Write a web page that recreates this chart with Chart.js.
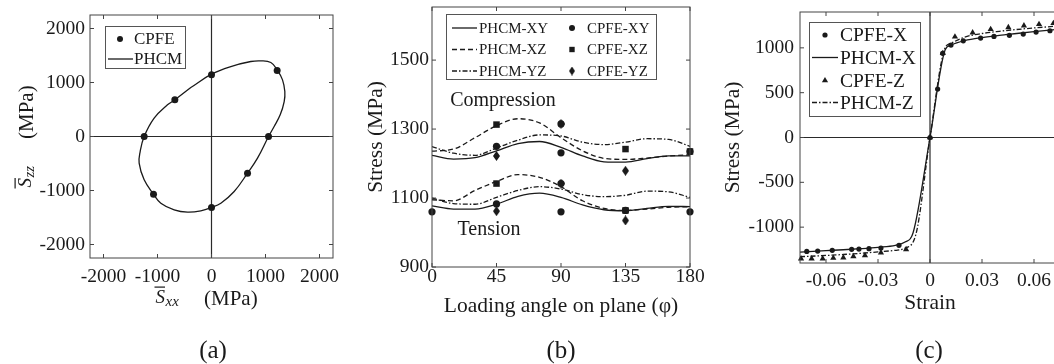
<!DOCTYPE html>
<html><head><meta charset="utf-8">
<script src="https://cdn.jsdelivr.net/npm/chart.js@4/dist/chart.umd.min.js"></script>
<style>
html,body{margin:0;padding:0;background:#fff;overflow:hidden;}
#wrap{position:relative;width:1054px;height:364px;overflow:hidden;background:#fff;}
.pc{position:absolute;top:0;}
.lab{position:absolute;font-family:"Liberation Serif","Times New Roman",serif;font-size:25px;line-height:1;color:#1a1a1a;transform:translateX(-50%);white-space:nowrap;}
</style></head><body>
<div id="wrap">
<canvas id="ca" class="pc" style="left:0" width="350" height="364"></canvas>
<canvas id="cb" class="pc" style="left:350px" width="380" height="364"></canvas>
<canvas id="cc" class="pc" style="left:700px" width="380" height="364"></canvas>
<div class="lab" style="left:213px;top:337px">(a)</div>
<div class="lab" style="left:561px;top:337px">(b)</div>
<div class="lab" style="left:929px;top:337px">(c)</div>
</div>
<script>
// ================= DATA =================
// (a) yield locus
const aTicks = [-2000, -1000, 0, 1000, 2000];
const aCpfeSxx = [0, 1216, 1056, 667, 0, -1074, -1247, -679];
const aCpfeSzz = [1142, 1222, 0, -679, -1315, -1068, 0, 679];
const aPhcmSxx = [-383,0,358,728,914,1099,1216,1315,1358,1346,1272,1160,1056,852,667,420,173,0,-198,-444,-691,-938,-1074,-1247,-1340,-1321,-1247,-1062,-815,-679,-383];
const aPhcmSzz = [907,1154,1296,1389,1401,1370,1235,1049,833,648,401,185,0,-401,-679,-1019,-1235,-1315,-1377,-1401,-1358,-1235,-1068,-802,-494,-278,0,340,586,679,907];
const aLegend = ['CPFE', 'PHCM'];

// (b) stress vs loading angle
const bXTicks = [0, 45, 90, 135, 180];
const bYTicks = [900, 1100, 1300, 1500];
const bAngles = [0, 15, 30, 45, 60, 75, 90, 105, 120, 135, 150, 165, 180];
const bPhcmXYComp = [1224,1213,1217,1237,1258,1264,1247,1222,1205,1204,1214,1222,1222];
const bPhcmXZComp = [1236,1242,1275,1310,1330,1318,1275,1237,1215,1212,1216,1222,1225];
const bPhcmYZComp = [1249,1230,1224,1245,1268,1283,1280,1262,1255,1262,1272,1270,1250];
const bPhcmXYTens = [1077,1068,1068,1082,1105,1114,1102,1080,1066,1063,1070,1076,1075];
const bPhcmXZTens = [1095,1092,1122,1148,1168,1160,1133,1092,1070,1064,1068,1073,1075];
const bPhcmYZTens = [1100,1084,1082,1102,1122,1133,1126,1110,1104,1108,1120,1118,1102];
const bCpfeXYAngle = [0, 45, 45, 90, 90, 90, 90, 135, 180, 180];
const bCpfeXYStress = [1060, 1250, 1083, 1315, 1231, 1142, 1060, 1064, 1235, 1060];
const bCpfeXZAngle = [45, 45, 135, 135, 180];
const bCpfeXZStress = [1313, 1142, 1242, 1064, 1235];
const bCpfeYZAngle = [45, 45, 90, 90, 135, 135];
const bCpfeYZStress = [1222, 1062, 1315, 1142, 1179, 1035];
const bLegendLines = ['PHCM-XY', 'PHCM-XZ', 'PHCM-YZ'];
const bLegendPoints = ['CPFE-XY', 'CPFE-XZ', 'CPFE-YZ'];
const bNotes = ['Compression', 'Tension'];

// (c) stress-strain
const cXTicks = [-0.06, -0.03, 0, 0.03, 0.06];
const cYTicks = [-1000, -500, 0, 500, 1000];
const cCpfeXStrain = [-0.0711,-0.0648,-0.0564,-0.0452,-0.041,-0.0352,-0.0283,-0.0179,0,0.0044,0.0073,0.0121,0.0192,0.0292,0.0369,0.0458,0.0538,0.0612,0.0692];
const cCpfeXStress = [-1271,-1267,-1259,-1248,-1245,-1240,-1233,-1203,0,540,939,1031,1079,1109,1128,1140,1154,1176,1191];
const cCpfeZStrain = [-0.0744,-0.0683,-0.0619,-0.0558,-0.050,-0.0442,-0.0375,-0.0283,-0.0138,0,0.0074,0.0144,0.0246,0.035,0.0452,0.0542,0.0629,0.0712];
const cCpfeZStress = [-1352,-1352,-1352,-1345,-1341,-1326,-1315,-1285,-1248,0,940,1124,1169,1207,1229,1247,1263,1274];
const cPhcmXStrain = [-0.075,-0.06,-0.05,-0.04,-0.03,-0.02,-0.0144,-0.0098,0,0.0087,0.012,0.02,0.03,0.04,0.05,0.06,0.075];
const cPhcmXStress = [-1278,-1262,-1252,-1240,-1225,-1203,-1166,-1066,0,975,1030,1080,1115,1140,1160,1180,1210];
const cPhcmZStrain = [-0.075,-0.06,-0.05,-0.04,-0.03,-0.02,-0.0145,-0.0083,0,0.0085,0.012,0.02,0.03,0.04,0.05,0.06,0.075];
const cPhcmZStress = [-1330,-1316,-1305,-1292,-1276,-1258,-1235,-1092,0,990,1050,1120,1160,1185,1205,1222,1245];
const cLegend = ['CPFE-X', 'PHCM-X', 'CPFE-Z', 'PHCM-Z'];

// ================= HELPERS =================
const C = '#1a1a1a';
const FAM = '"Liberation Serif", "Times New Roman", serif';
const pts = (xs, ys) => xs.map((x, i) => ({x: x, y: ys[i]}));
const DASH = [5, 3];
const DASHDOT = [5, 2, 1.5, 2];

function makeDiamond(w, h) {
  const c = document.createElement('canvas'); c.width = w; c.height = h;
  const g = c.getContext('2d'); g.fillStyle = C;
  g.beginPath(); g.moveTo(w/2, 0); g.lineTo(w, h/2); g.lineTo(w/2, h); g.lineTo(0, h/2); g.closePath(); g.fill();
  return c;
}
const diamond = makeDiamond(7, 10);

function axis(min, max, tickVals, o) {
  return {
    type: 'linear', min: min, max: max,
    grid: {display: false, drawTicks: false}, border: {display: false},
    afterBuildTicks: s => { s.ticks = tickVals.map(v => ({value: v})); },
    afterFit: s => {
      if (o.w !== undefined) { s.width = o.w; s.paddingTop = 0; s.paddingBottom = 0; }
      if (o.h !== undefined) { s.height = o.h; s.paddingLeft = 0; s.paddingRight = 0; }
    },
    ticks: {font: {family: FAM, size: 19.5, lineHeight: 1}, color: C, padding: o.pad,
            autoSkip: false, maxRotation: 0, minRotation: 0,
            callback: v => o.fmt ? o.fmt(v) : String(v)},
    title: o.title ? {display: true, text: o.title, color: C,
             font: {family: FAM, size: 21.5, lineHeight: 1}, padding: o.tpad} : {display: false}
  };
}

function frame(key, zero, after) {
  return {
    id: 'frame' + key,
    beforeDatasetsDraw(chart) {
      if (!zero) return;
      const {ctx, chartArea: a, scales: {x, y}} = chart;
      ctx.save(); ctx.strokeStyle = '#2a2a2a'; ctx.lineWidth = 1.2;
      const px = x.getPixelForValue(0), py = y.getPixelForValue(0);
      ctx.beginPath(); ctx.moveTo(px, a.top); ctx.lineTo(px, a.bottom);
      ctx.moveTo(a.left, py); ctx.lineTo(a.right, py); ctx.stroke(); ctx.restore();
    },
    afterDatasetsDraw(chart) {
      const {ctx, chartArea: a, scales: {x, y}} = chart;
      ctx.save(); ctx.strokeStyle = '#444'; ctx.lineWidth = 1;
      ctx.strokeRect(a.left, a.top, a.right - a.left, a.bottom - a.top);
      const L = 4; ctx.beginPath();
      x.ticks.forEach(t => { const p = x.getPixelForValue(t.value);
        ctx.moveTo(p, a.bottom); ctx.lineTo(p, a.bottom - L); ctx.moveTo(p, a.top); ctx.lineTo(p, a.top + L); });
      y.ticks.forEach(t => { const p = y.getPixelForValue(t.value);
        ctx.moveTo(a.left, p); ctx.lineTo(a.left + L, p); ctx.moveTo(a.right, p); ctx.lineTo(a.right - L, p); });
      ctx.stroke(); ctx.restore();
      if (after) after(chart);
    }
  };
}

function legendBox(ctx, bx, by, bw, bh, font, rows) {
  ctx.save();
  ctx.fillStyle = '#fff'; ctx.fillRect(bx, by, bw, bh);
  ctx.strokeStyle = '#555'; ctx.lineWidth = 1; ctx.strokeRect(bx + 0.5, by + 0.5, bw, bh);
  rows.forEach(r => {
    if (r.line) {
      ctx.save(); ctx.strokeStyle = C; ctx.lineWidth = 1.3; ctx.setLineDash(r.dash || []);
      ctx.beginPath(); ctx.moveTo(r.x1, r.y); ctx.lineTo(r.x2, r.y); ctx.stroke(); ctx.restore();
    }
    if (r.point) {
      ctx.save(); ctx.fillStyle = C; ctx.strokeStyle = C;
      Chart.helpers.drawPoint(ctx, {pointStyle: r.point, radius: r.radius, rotation: 0, borderWidth: 0}, r.px, r.y);
      ctx.restore();
    }
    ctx.font = font; ctx.fillStyle = C; ctx.textBaseline = 'middle'; ctx.textAlign = 'left';
    ctx.fillText(r.text, r.tx, r.y + 1);
  });
  ctx.restore();
}

function mathTitle(ctx, ox, oy, rot, sub) {
  ctx.save(); ctx.translate(ox, oy); if (rot) ctx.rotate(-Math.PI / 2);
  ctx.fillStyle = C; ctx.textBaseline = 'alphabetic'; ctx.textAlign = 'left';
  ctx.font = 'italic 19px ' + FAM; ctx.fillText('S', 1.5, -2.5);
  ctx.fillRect(0.5, -18.5, 10.5, 1.2);
  ctx.font = 'italic 15px ' + FAM; ctx.fillText(sub, 11.5, 0.5);
  ctx.font = '21px ' + FAM; ctx.fillText('(MPa)', 50, 0);
  ctx.restore();
}

const common = {responsive: false, animation: false, devicePixelRatio: 1,
  plugins: {legend: {display: false}, tooltip: {enabled: false}}};

// ================= (a) =================
new Chart(document.getElementById('ca'), {
  type: 'scatter',
  data: {datasets: [
    {data: pts(aPhcmSxx, aPhcmSzz), showLine: true, borderColor: C, borderWidth: 1.3, pointRadius: 0, tension: 0.4, fill: false},
    {data: pts(aCpfeSxx, aCpfeSzz), showLine: false, pointRadius: 3.5, pointBackgroundColor: C, pointBorderWidth: 0, clip: false}
  ]},
  options: Object.assign({}, common, {
    layout: {padding: {top: 15, right: 17, left: 0, bottom: 0}},
    scales: {
      x: axis(-2250, 2250, aTicks, {h: 106, pad: 9.5}),
      y: axis(-2250, 2250, aTicks, {w: 90, pad: 5})
    }
  }),
  plugins: [frame('a', true, chart => {
    const ctx = chart.ctx;
    legendBox(ctx, 105, 26, 80, 42, '17px ' + FAM, [
      {point: 'circle', radius: 3, px: 120, y: 39, text: aLegend[0], tx: 134},
      {line: true, x1: 108, x2: 133, y: 59, text: aLegend[1], tx: 134}
    ]);
    mathTitle(ctx, 154, 305, false, 'xx');
    mathTitle(ctx, 33, 189, true, 'zz');
  })]
});

// ================= (b) =================
const lineDs = (ys, dash) => ({data: pts(bAngles, ys), showLine: true, borderColor: C, borderWidth: 1.3,
  borderDash: dash, pointRadius: 0, cubicInterpolationMode: 'monotone', fill: false});
const markDs = (xs, ys, style, r) => ({data: pts(xs, ys), showLine: false, pointStyle: style, pointRadius: r,
  pointBackgroundColor: C, pointBorderColor: C, pointBorderWidth: 0, clip: false});
new Chart(document.getElementById('cb'), {
  type: 'scatter',
  data: {datasets: [
    lineDs(bPhcmXYComp, []), lineDs(bPhcmXYTens, []),
    lineDs(bPhcmXZComp, DASH), lineDs(bPhcmXZTens, DASH),
    lineDs(bPhcmYZComp, DASHDOT), lineDs(bPhcmYZTens, DASHDOT),
    markDs(bCpfeXYAngle, bCpfeXYStress, 'circle', 3.6),
    markDs(bCpfeXZAngle, bCpfeXZStress, 'rect', 4.6),
    markDs(bCpfeYZAngle, bCpfeYZStress, diamond, 4)
  ]},
  options: Object.assign({}, common, {
    layout: {padding: {top: 7, right: 40, left: 0, bottom: 0}},
    scales: {
      x: axis(0, 180, bXTicks, {h: 97, pad: 0, title: 'Loading angle on plane (φ)', tpad: {top: 0, bottom: 47}}),
      y: axis(900, 1654, bYTicks, {w: 82, pad: 3, title: 'Stress (MPa)', tpad: {top: 16, bottom: 0}})
    }
  }),
  plugins: [frame('b', false, chart => {
    const ctx = chart.ctx, o = 350;
    legendBox(ctx, 446 - o, 14, 210, 65, '15px ' + FAM, [
      {line: true, x1: 452 - o, x2: 477 - o, y: 28, text: bLegendLines[0], tx: 479 - o},
      {line: true, dash: DASH, x1: 452 - o, x2: 477 - o, y: 49.5, text: bLegendLines[1], tx: 479 - o},
      {line: true, dash: DASHDOT, x1: 452 - o, x2: 477 - o, y: 71, text: bLegendLines[2], tx: 479 - o},
      {point: 'circle', radius: 3, px: 572 - o, y: 28, text: bLegendPoints[0], tx: 587 - o},
      {point: 'rect', radius: 3.8, px: 572 - o, y: 49.5, text: bLegendPoints[1], tx: 587 - o},
      {point: makeDiamond(6, 9), radius: 4, px: 572 - o, y: 71, text: bLegendPoints[2], tx: 587 - o}
    ]);
    ctx.save(); ctx.fillStyle = C; ctx.font = '20px ' + FAM; ctx.textAlign = 'center'; ctx.textBaseline = 'middle';
    ctx.fillText(bNotes[0], 503 - o, 101);
    ctx.fillText(bNotes[1], 489 - o, 230);
    ctx.restore();
  })]
});

// ================= (c) =================
const cLine = (xs, ys, dash) => ({data: pts(xs, ys), showLine: true, borderColor: C, borderWidth: 1.3,
  borderDash: dash, pointRadius: 0, cubicInterpolationMode: 'monotone', fill: false});
new Chart(document.getElementById('cc'), {
  type: 'scatter',
  data: {datasets: [
    cLine(cPhcmXStrain, cPhcmXStress, []),
    cLine(cPhcmZStrain, cPhcmZStress, DASHDOT),
    {data: pts(cCpfeXStrain, cCpfeXStress), showLine: false, pointStyle: 'circle', pointRadius: 2.6,
      pointBackgroundColor: C, pointBorderWidth: 0, clip: false},
    {data: pts(cCpfeZStrain, cCpfeZStress), showLine: false, pointStyle: 'triangle', pointRadius: 3.6,
      pointBackgroundColor: C, pointBorderWidth: 0, clip: false}
  ]},
  options: Object.assign({}, common, {
    layout: {padding: {top: 12, right: 20, left: 0, bottom: 0}},
    scales: {
      x: axis(-0.075, 0.075, cXTicks, {h: 101, pad: 8, fmt: v => String(+v.toFixed(2)),
          title: 'Strain', tpad: {top: 0, bottom: 49.5}}),
      y: axis(-1400, 1400, cYTicks, {w: 100, pad: 6, title: 'Stress (MPa)', tpad: {top: 22.5, bottom: 0}})
    }
  }),
  plugins: [frame('c', true, chart => {
    const ctx = chart.ctx, o = 700;
    legendBox(ctx, 809 - o, 22, 111, 94, '19.5px ' + FAM, [
      {point: 'circle', radius: 2.6, px: 825 - o, y: 35, text: cLegend[0], tx: 840 - o},
      {line: true, x1: 812 - o, x2: 838 - o, y: 57.5, text: cLegend[1], tx: 840 - o},
      {point: 'triangle', radius: 3.6, px: 825 - o, y: 80.5, text: cLegend[2], tx: 840 - o},
      {line: true, dash: DASHDOT, x1: 812 - o, x2: 838 - o, y: 102.5, text: cLegend[3], tx: 840 - o}
    ]);
  })]
});
</script>
</body></html>
